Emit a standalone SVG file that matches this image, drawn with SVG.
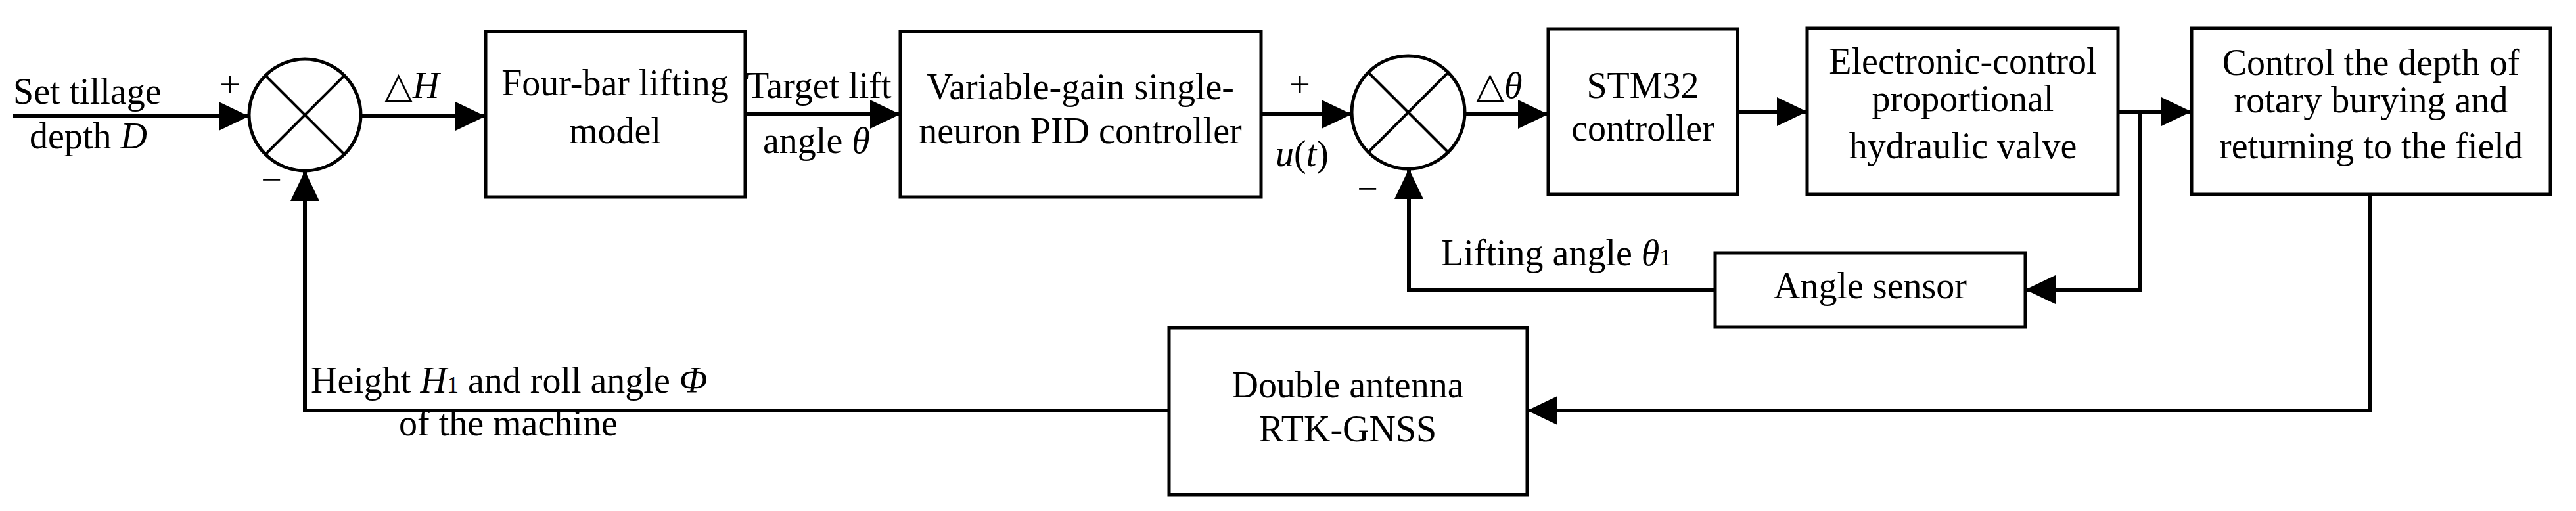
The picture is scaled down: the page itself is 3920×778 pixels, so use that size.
<svg xmlns="http://www.w3.org/2000/svg" width="3920" height="778" viewBox="0 0 3920 778">
<style>
text{font-family:"Liberation Serif","Times New Roman",serif;font-size:56px;fill:#000}
.c{text-anchor:middle}
.i{font-style:italic}
rect,circle{fill:#fff;stroke:#000;stroke-width:5}
.x{stroke:#000;stroke-width:4}
#connectors path{fill:none;stroke:#000;stroke-width:6}
</style>
<defs>
<marker id="a" markerUnits="userSpaceOnUse" markerWidth="46" markerHeight="44" refX="46" refY="22" orient="auto">
<path d="M0,0L46,22L0,44Z" fill="#000"/>
</marker>
</defs>
<g id="connectors">
<path d="M20,177H379" marker-end="url(#a)"/>
<path d="M549,177H739" marker-end="url(#a)"/>
<path d="M1134,174H1370" marker-end="url(#a)"/>
<path d="M1919,174H2057" marker-end="url(#a)"/>
<path d="M2229,174H2356" marker-end="url(#a)"/>
<path d="M2644,170H2750" marker-end="url(#a)"/>
<path d="M3223,170H3335" marker-end="url(#a)"/>
<path d="M3257,170V441H3082" marker-end="url(#a)"/>
<path d="M2610,441H2144V257" marker-end="url(#a)"/>
<path d="M3606,296V625H2324" marker-end="url(#a)"/>
<path d="M1779,625H464V260" marker-end="url(#a)"/>
</g>
<g id="sum1">
<circle cx="464" cy="175" r="85"/>
<line class="x" x1="404" y1="115" x2="524" y2="235"/>
<line class="x" x1="524" y1="115" x2="404" y2="235"/>
<text x="350" y="148" class="c">+</text>
<text x="413" y="292" class="c">−</text>
</g>
<g id="sum2">
<circle cx="2143" cy="171" r="86"/>
<line class="x" x1="2082" y1="110" x2="2204" y2="232"/>
<line class="x" x1="2204" y1="110" x2="2082" y2="232"/>
<text x="1978" y="148" class="c">+</text>
<text x="2081" y="306" class="c">−</text>
</g>
<g id="labels">
<text x="20" y="158">Set tillage</text>
<text x="45" y="226">depth <tspan class="i">D</tspan></text>
<text x="585" y="149">△<tspan class="i">H</tspan></text>
<text x="1136" y="149">Target lift</text>
<text x="1161" y="233">angle <tspan class="i">θ</tspan></text>
<text x="1941" y="253" class="i" font-size="64">u<tspan font-style="normal">(</tspan>t<tspan font-style="normal">)</tspan></text>
<text x="2246" y="149">△<tspan class="i">θ</tspan></text>
<text x="2193" y="404">Lifting angle <tspan class="i">θ</tspan><tspan font-size="36">1</tspan></text>
<text x="473" y="598">Height <tspan class="i">H</tspan><tspan font-size="36">1</tspan> and roll angle <tspan class="i">Φ</tspan></text>
<text x="607" y="663">of the machine</text>
</g>
<g id="fourbar">
<rect x="739" y="48" width="395" height="252"/>
<text x="936" y="145" class="c">Four-bar lifting</text>
<text x="936" y="218" class="c">model</text>
</g>
<g id="pid">
<rect x="1370" y="48" width="549" height="252"/>
<text x="1644" y="151" class="c">Variable-gain single-</text>
<text x="1644" y="218" class="c">neuron PID controller</text>
</g>
<g id="stm32">
<rect x="2356" y="44" width="288" height="252"/>
<text x="2500" y="149" class="c">STM32</text>
<text x="2500" y="214" class="c">controller</text>
</g>
<g id="valve">
<rect x="2750" y="43" width="473" height="253"/>
<text x="2987" y="112" class="c">Electronic-control</text>
<text x="2987" y="169" class="c">proportional</text>
<text x="2987" y="241" class="c">hydraulic valve</text>
</g>
<g id="control">
<rect x="3335" y="43" width="546" height="253"/>
<text x="3608" y="114" class="c">Control the depth of</text>
<text x="3608" y="171" class="c">rotary burying and</text>
<text x="3608" y="241" class="c">returning to the field</text>
</g>
<g id="sensor">
<rect x="2610" y="385" width="472" height="113"/>
<text x="2846" y="454" class="c">Angle sensor</text>
</g>
<g id="gnss">
<rect x="1779" y="499" width="545" height="254"/>
<text x="2051" y="605" class="c">Double antenna</text>
<text x="2051" y="672" class="c">RTK-GNSS</text>
</g>
</svg>
